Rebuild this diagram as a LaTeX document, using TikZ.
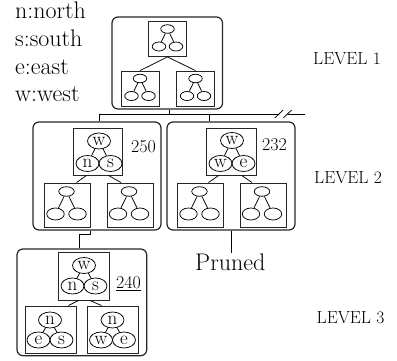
\documentclass[tikz,border=0pt]{standalone}
\usepackage{fontspec}
\usetikzlibrary{shapes.geometric,calc}
\tikzset{
  outerbox/.style={draw=black!85,line width=1.2pt,rounded corners=6pt,inner sep=0},
  sqbox/.style={draw=black!85,line width=0.9pt,inner sep=0},
  mel/.style={draw,ellipse,inner sep=0,line width=0.75pt},
  lel/.style={draw,ellipse,inner sep=0,line width=0.75pt,minimum width=23,minimum height=16,font=\fontsize{19}{19}\selectfont},
  tline/.style={line width=0.75pt},
  cline/.style={line width=0.8pt},
  bigtxt/.style={font=\fontsize{24}{24}\selectfont,inner sep=0,anchor=base west},
  midtxt/.style={font=\fontsize{18}{18}\selectfont,inner sep=0,anchor=base west},
  lvltxt/.style={font=\fontsize{17.5}{17.5}\selectfont,inner sep=0,anchor=base west},
}
% level-1 mini tree in a square
\newcommand\treeI[3]{%
  \node[sqbox,minimum width=38,minimum height=35] (#1) at (#2,#3) {};
  \node[mel,minimum width=13.5,minimum height=8.5] (#1a) at ({#2},{#3-10}) {};
  \node[mel,minimum width=13.5,minimum height=9] (#1b) at ({#2-8.5},{#3+7.5}) {};
  \node[mel,minimum width=13.5,minimum height=9] (#1c) at ({#2+8.5},{#3+7.5}) {};
  \draw[tline] (#1a) -- (#1b) (#1a) -- (#1c);}
% level-2 mini tree in a square
\newcommand\treeII[3]{%
  \node[sqbox,minimum width=46,minimum height=44] (#1) at (#2,#3) {};
  \node[mel,minimum width=15.5,minimum height=9.5] (#1a) at ({#2-1},{#3-13.5}) {};
  \node[mel,minimum width=17.5,minimum height=12] (#1b) at ({#2-12},{#3+9}) {};
  \node[mel,minimum width=17.5,minimum height=12] (#1c) at ({#2+10},{#3+9}) {};
  \draw[tline] (#1a) -- (#1b) (#1a) -- (#1c);}
% lettered tree
\newcommand\ltree[7]{%
  \node[lel] (#1a) at (#2,#3) {#5};
  \node[lel] (#1b) at ({#2-11.5},#4) {#6};
  \node[lel] (#1c) at ({#2+11.5},#4) {#7};
  \draw[tline] (#1a) -- (#1b) (#1a) -- (#1c);}
\begin{document}
\begin{tikzpicture}[x=1pt,y=-1pt]
\useasboundingbox (0,0) rectangle (397,361);

% legend
\node[bigtxt] (lg1) at (15,18.3) {n:north};
\node[bigtxt] (lg2) at (15,46.7) {s:south};
\node[bigtxt] (lg3) at (15,75) {e:east};
\node[bigtxt] (lg4) at (15,101.7) {w:west};

% level labels
\node[lvltxt] (lv1) at (313,65) {LEVEL 1};
\node[lvltxt] (lv2) at (314,184) {LEVEL 2};
\node[lvltxt] (lv3) at (316.5,323.3) {LEVEL 3};

% ---------- level 1 ----------
\node[outerbox,minimum width=110.5,minimum height=92] (L1) at (167.25,63) {};
\treeI{a1}{167.5}{39}
\treeI{a2}{140}{88.5}
\treeI{a3}{195.5}{88.5}
\draw[tline] (a1.south) -- (a2.north) (a1.south) -- (a3.north);

% ---------- level 2 ----------
\node[outerbox,minimum width=128,minimum height=108] (L2l) at (97,176) {};
\node[outerbox,minimum width=128,minimum height=108] (L2r) at (231,176) {};

\node[sqbox,minimum width=49,minimum height=47] (b1) at (97.5,151.5) {};
\ltree{tb}{99}{141}{163.5}{w}{n}{s}
\node[midtxt] (v250) at (131,152.5) {250};
\treeII{b2}{67.5}{205}
\treeII{b3}{130}{205}
\draw[tline] ([xshift=-11pt]b1.south) -- ([xshift=9pt]b2.north)
             ([xshift=11pt]b1.south) -- ([xshift=-9pt]b3.north);

\node[sqbox,minimum width=50,minimum height=47] (c1) at (231.7,151.5) {};
\ltree{tc}{232}{140.5}{163.5}{w}{w}{e}
\node[midtxt] (v232) at (262,151) {232};
\treeII{c2}{200.5}{205}
\treeII{c3}{263}{205}
\draw[tline] ([xshift=-13pt]c1.south) -- ([xshift=8pt]c2.north)
             ([xshift=10pt]c1.south) -- ([xshift=-11pt]c3.north);

% ---------- level 3 ----------
\node[outerbox,minimum width=129.7,minimum height=106.7] (L3) at (81.85,302.35) {};
\node[sqbox,minimum width=51,minimum height=48] (d1) at (83.5,276) {};
\ltree{td}{84}{265.5}{286}{w}{n}{s}
\node[midtxt] (v240) at (116,288.3) {\underline{240}};
\node[sqbox,minimum width=51,minimum height=47] (d2) at (50.5,329.5) {};
\ltree{te}{50}{320}{340}{n}{e}{s}
\node[sqbox,minimum width=51,minimum height=47] (d3) at (112.5,329.5) {};
\ltree{tf}{112.5}{320}{340}{n}{w}{e}
\draw[tline] ([xshift=-5pt]d1.south) -- ([xshift=18pt]d2.north)
             ([xshift=6.5pt]d1.south) -- ([xshift=-11pt]d3.north);

% ---------- connectors between levels ----------
\coordinate (bj) at (169,114);
\coordinate (bl) at (99,114);
\coordinate (bm) at (209,114);
\coordinate (g1) at (279,114);
\coordinate (g2) at (287.5,114);
\coordinate (br) at (305,114);
\draw[cline] (L1.south -| bj) -- (bj);
\draw[cline] (bl) -- (g1) (g2) -- (br);
\draw[cline] ($(g1)+(-4,3.8)$) -- ($(g1)+(4,-3.8)$);
\draw[cline] ($(g2)+(-4,3.8)$) -- ($(g2)+(4,-3.8)$);
\draw[cline] (bl) -- (bl |- L2l.north);
\draw[cline] (bm) -- (bm |- L2r.north);

\coordinate (k1) at (90.7,234);
\coordinate (k2) at (79,234);
\draw[cline] (L2l.south -| k1) -- (k1) -- (k2) -- (k2 |- L3.north);

\node[bigtxt] (P) at (195,270) {Pruned};
\draw[cline] (L2r.south) -- (L2r.south |- P.north);
\end{tikzpicture}
\end{document}
